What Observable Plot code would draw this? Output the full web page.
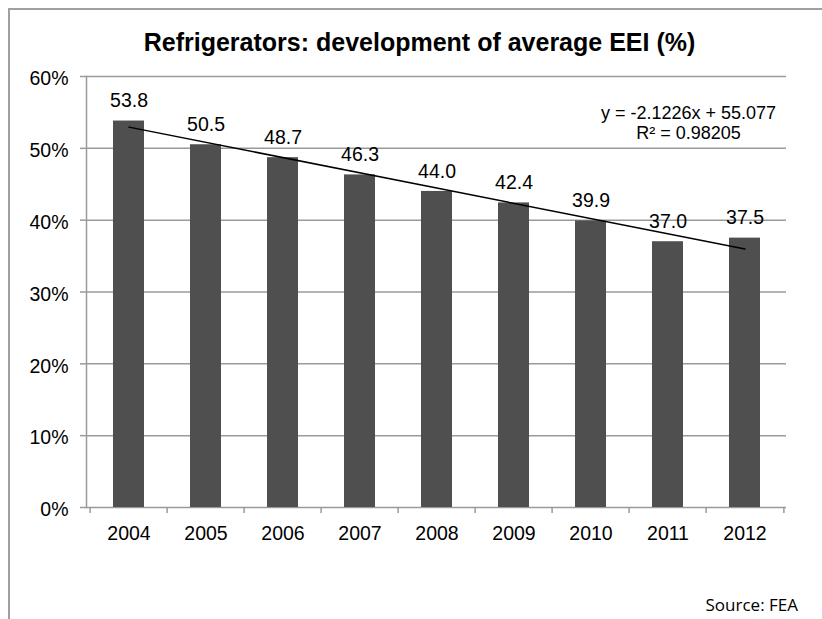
<!DOCTYPE html>
<html><head><meta charset="utf-8">
<script src="https://cdn.jsdelivr.net/npm/d3@7"></script>
<script src="https://cdn.jsdelivr.net/npm/@observablehq/plot@0.6"></script>
<style>
html,body{margin:0;padding:0;background:#fff;overflow:hidden;width:822px;height:619px}
#frame{position:absolute;left:8px;top:8px;width:900px;height:700px;border:2px solid #a0a0a0;box-sizing:border-box}
#wrap{position:relative}
#title{box-sizing:border-box;height:66px;padding-top:30px;padding-left:17px;text-align:center;font-family:"Liberation Sans",Arial,sans-serif;font-weight:bold;font-size:25px;line-height:1;color:#000;white-space:nowrap}
#caption{box-sizing:border-box;height:24px;line-height:24px;padding-right:24px;text-align:right;font-family:"Open Sans",sans-serif;font-size:17px;color:#000;white-space:nowrap}
svg{display:block}
</style>
</head><body>
<div id="frame"></div>
<div id="wrap"></div>
<script>
const years = ["2004","2005","2006","2007","2008","2009","2010","2011","2012"];
const eei = [53.8, 50.5, 48.7, 46.3, 44.0, 42.4, 39.9, 37.0, 37.5];
const yTicks = [0, 10, 20, 30, 40, 50, 60];
const trendSlope = -2.1226;
const trendIntercept = 55.077;
const rSquared = 0.98205;
const titleText = "Refrigerators: development of average EEI (%)";
const sourceText = "Source: FEA";

const data = years.map((year, i) => ({year, v: eei[i]}));
const trend = [0, years.length - 1].map(i => ({year: years[i], v: trendSlope * (i + 1) + trendIntercept}));
const eqText = `y = ${trendSlope}x + ${trendIntercept}\nR² = ${rSquared}`;

const W = 822, H = 527, ML = 86, MR = 36, MT = 10, MB = 86;
const step = (W - ML - MR) / years.length;
const gray = "#9a9a9a";
const font = '"Liberation Sans", Arial, sans-serif';

const wrap = document.getElementById("wrap");
const title = document.createElement("div");
title.id = "title";
title.textContent = titleText;
wrap.appendChild(title);

const chart = Plot.plot({
  width: W, height: H,
  marginLeft: ML, marginRight: MR, marginTop: MT, marginBottom: MB,
  style: {fontFamily: font, background: "transparent", color: "#000"},
  x: {type: "band", domain: years, paddingInner: 0.6, paddingOuter: 0.3, label: null},
  y: {domain: [0, 60], label: null},
  marks: [
    Plot.gridY(yTicks, {stroke: gray, strokeOpacity: 1, strokeWidth: 1.5}),
    Plot.frame({anchor: "left", stroke: gray, strokeWidth: 1.5}),
    Plot.axisY({ticks: yTicks, tickSize: 6, stroke: gray, strokeWidth: 1.5, fill: "none", label: null}),
    Plot.axisY({ticks: yTicks, tickSize: 0, tickPadding: 18, tickFormat: d => d + "%", fontSize: 19.5, dy: 2.5, label: null}),
    Plot.axisX({tickSize: 6, stroke: gray, strokeWidth: 1.5, fill: "none", dx: -step / 2, label: null}),
    Plot.axisX({ticks: [years[years.length - 1]], tickSize: 6, stroke: gray, strokeWidth: 1.5, fill: "none", dx: step / 2, label: null}),
    Plot.axisX({tickSize: 0, tickPadding: 19, fontSize: 19.5, label: null}),
    Plot.barY(data, {x: "year", y: "v", fill: "#4f4f4f"}),
    Plot.line(trend, {x: "year", y: "v", stroke: "#000", strokeWidth: 1.5}),
    Plot.text(data, {x: "year", y: "v", text: d => d3.format(".1f")(d.v), dy: -20, fontSize: 19.5, fill: "#000"}),
    Plot.text([eqText], {text: d => d, frameAnchor: "top-right", textAnchor: "middle", lineAnchor: "middle", dx: -98, dy: 46, fontSize: 18, lineHeight: 1.11, fill: "#000"})
  ]
});
wrap.appendChild(chart);

const cap = document.createElement("div");
cap.id = "caption";
cap.textContent = sourceText;
wrap.appendChild(cap);
</script>
</body></html>
